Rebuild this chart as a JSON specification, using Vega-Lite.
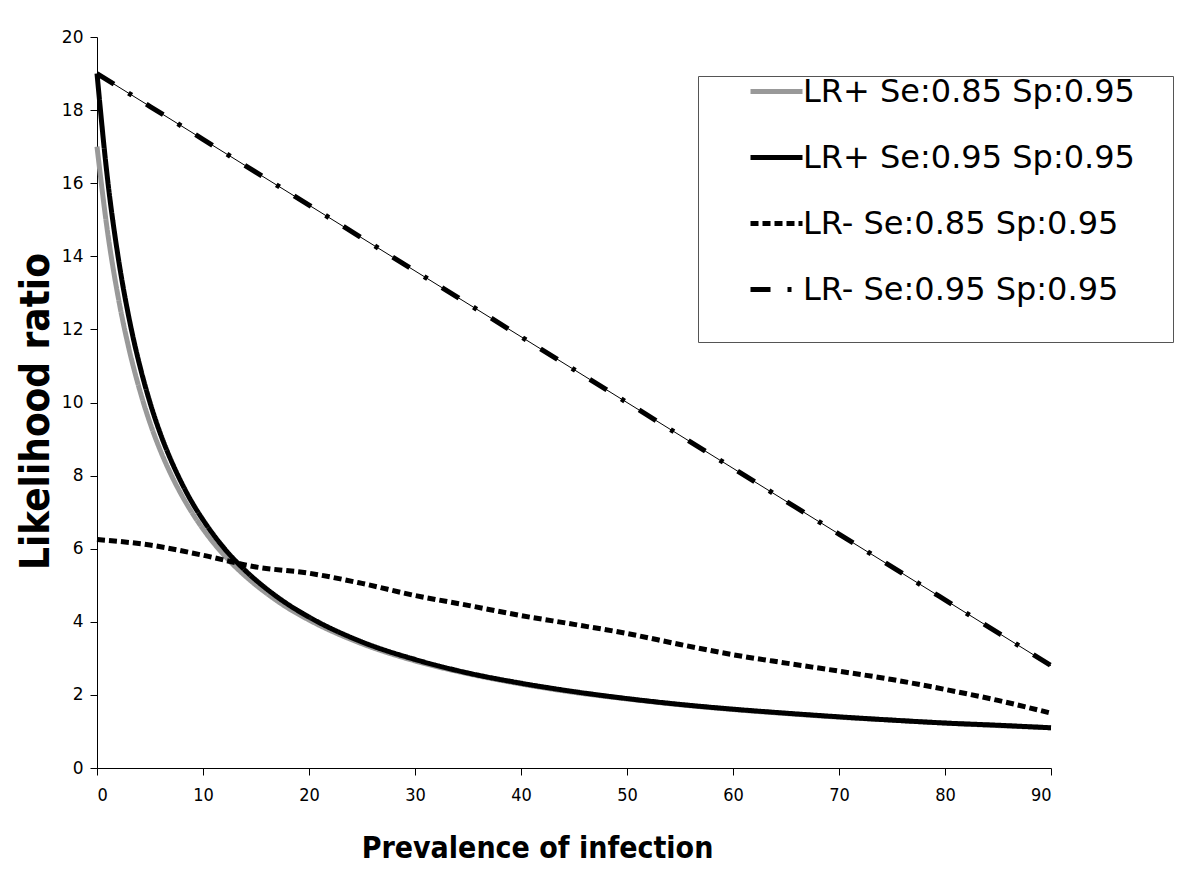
{
  "$schema": "https://vega.github.io/schema/vega-lite/v6.json",
  "width": 954,
  "height": 731,
  "autosize": "none",
  "padding": {"left": 97, "top": 37, "right": 149, "bottom": 126},
  "background": "white",
  "config": {
    "view": {"stroke": null},
    "axis": {"grid": false, "domainColor": "#000", "tickColor": "#000", "labelColor": "#000", "titleColor": "#000", "tickSize": 7, "domainWidth": 1, "tickWidth": 1},
    "axisX": {"labelFont": "DejaVu Sans Condensed", "labelFontSize": 18, "labelPadding": 11},
    "axisY": {"labelFont": "DejaVu Sans", "labelFontSize": 17, "labelPadding": 7},
    "legend": {
      "orient": "none", "legendX": 601, "legendY": 39,
      "symbolType": "stroke", "symbolSize": 2704, "symbolOffset": 63,
      "labelFont": "DejaVu Sans", "labelFontSize": 32, "labelColor": "#000", "labelOffset": -2, "labelLimit": 700,
      "rowPadding": 21, "padding": -13, "strokeColor": "#555", "fillColor": "white",
      "titleOrient": "bottom", "titleFontSize": 16, "titlePadding": 33
    }
  },
  "datasets": {
    "curves": [
      {"series": "LR+ Se:0.85 Sp:0.95", "prevalence": 0, "lr": 17.0},
      {"series": "LR+ Se:0.85 Sp:0.95", "prevalence": 1, "lr": 14.66},
      {"series": "LR+ Se:0.85 Sp:0.95", "prevalence": 2, "lr": 12.88},
      {"series": "LR+ Se:0.85 Sp:0.95", "prevalence": 3, "lr": 11.49},
      {"series": "LR+ Se:0.85 Sp:0.95", "prevalence": 4, "lr": 10.37},
      {"series": "LR+ Se:0.85 Sp:0.95", "prevalence": 5, "lr": 9.44},
      {"series": "LR+ Se:0.85 Sp:0.95", "prevalence": 6, "lr": 8.67},
      {"series": "LR+ Se:0.85 Sp:0.95", "prevalence": 7, "lr": 8.02},
      {"series": "LR+ Se:0.85 Sp:0.95", "prevalence": 8, "lr": 7.46},
      {"series": "LR+ Se:0.85 Sp:0.95", "prevalence": 9, "lr": 6.97},
      {"series": "LR+ Se:0.85 Sp:0.95", "prevalence": 10, "lr": 6.54},
      {"series": "LR+ Se:0.85 Sp:0.95", "prevalence": 12, "lr": 5.82},
      {"series": "LR+ Se:0.85 Sp:0.95", "prevalence": 14, "lr": 5.25},
      {"series": "LR+ Se:0.85 Sp:0.95", "prevalence": 16, "lr": 4.78},
      {"series": "LR+ Se:0.85 Sp:0.95", "prevalence": 18, "lr": 4.38},
      {"series": "LR+ Se:0.85 Sp:0.95", "prevalence": 20, "lr": 4.05},
      {"series": "LR+ Se:0.85 Sp:0.95", "prevalence": 25, "lr": 3.40},
      {"series": "LR+ Se:0.85 Sp:0.95", "prevalence": 30, "lr": 2.93},
      {"series": "LR+ Se:0.85 Sp:0.95", "prevalence": 35, "lr": 2.58},
      {"series": "LR+ Se:0.85 Sp:0.95", "prevalence": 40, "lr": 2.30},
      {"series": "LR+ Se:0.85 Sp:0.95", "prevalence": 45, "lr": 2.07},
      {"series": "LR+ Se:0.85 Sp:0.95", "prevalence": 50, "lr": 1.89},
      {"series": "LR+ Se:0.85 Sp:0.95", "prevalence": 55, "lr": 1.73},
      {"series": "LR+ Se:0.85 Sp:0.95", "prevalence": 60, "lr": 1.60},
      {"series": "LR+ Se:0.85 Sp:0.95", "prevalence": 65, "lr": 1.49},
      {"series": "LR+ Se:0.85 Sp:0.95", "prevalence": 70, "lr": 1.39},
      {"series": "LR+ Se:0.85 Sp:0.95", "prevalence": 75, "lr": 1.31},
      {"series": "LR+ Se:0.85 Sp:0.95", "prevalence": 80, "lr": 1.23},
      {"series": "LR+ Se:0.85 Sp:0.95", "prevalence": 85, "lr": 1.16},
      {"series": "LR+ Se:0.85 Sp:0.95", "prevalence": 90, "lr": 1.10},

      {"series": "LR+ Se:0.95 Sp:0.95", "prevalence": 0, "lr": 19.0},
      {"series": "LR+ Se:0.95 Sp:0.95", "prevalence": 1, "lr": 16.10},
      {"series": "LR+ Se:0.95 Sp:0.95", "prevalence": 2, "lr": 13.97},
      {"series": "LR+ Se:0.95 Sp:0.95", "prevalence": 3, "lr": 12.34},
      {"series": "LR+ Se:0.95 Sp:0.95", "prevalence": 4, "lr": 11.05},
      {"series": "LR+ Se:0.95 Sp:0.95", "prevalence": 5, "lr": 10.0},
      {"series": "LR+ Se:0.95 Sp:0.95", "prevalence": 6, "lr": 9.13},
      {"series": "LR+ Se:0.95 Sp:0.95", "prevalence": 7, "lr": 8.41},
      {"series": "LR+ Se:0.95 Sp:0.95", "prevalence": 8, "lr": 7.79},
      {"series": "LR+ Se:0.95 Sp:0.95", "prevalence": 9, "lr": 7.25},
      {"series": "LR+ Se:0.95 Sp:0.95", "prevalence": 10, "lr": 6.79},
      {"series": "LR+ Se:0.95 Sp:0.95", "prevalence": 12, "lr": 6.01},
      {"series": "LR+ Se:0.95 Sp:0.95", "prevalence": 14, "lr": 5.40},
      {"series": "LR+ Se:0.95 Sp:0.95", "prevalence": 16, "lr": 4.90},
      {"series": "LR+ Se:0.95 Sp:0.95", "prevalence": 18, "lr": 4.48},
      {"series": "LR+ Se:0.95 Sp:0.95", "prevalence": 20, "lr": 4.13},
      {"series": "LR+ Se:0.95 Sp:0.95", "prevalence": 25, "lr": 3.45},
      {"series": "LR+ Se:0.95 Sp:0.95", "prevalence": 30, "lr": 2.97},
      {"series": "LR+ Se:0.95 Sp:0.95", "prevalence": 35, "lr": 2.60},
      {"series": "LR+ Se:0.95 Sp:0.95", "prevalence": 40, "lr": 2.32},
      {"series": "LR+ Se:0.95 Sp:0.95", "prevalence": 45, "lr": 2.09},
      {"series": "LR+ Se:0.95 Sp:0.95", "prevalence": 50, "lr": 1.90},
      {"series": "LR+ Se:0.95 Sp:0.95", "prevalence": 55, "lr": 1.74},
      {"series": "LR+ Se:0.95 Sp:0.95", "prevalence": 60, "lr": 1.61},
      {"series": "LR+ Se:0.95 Sp:0.95", "prevalence": 65, "lr": 1.50},
      {"series": "LR+ Se:0.95 Sp:0.95", "prevalence": 70, "lr": 1.40},
      {"series": "LR+ Se:0.95 Sp:0.95", "prevalence": 75, "lr": 1.31},
      {"series": "LR+ Se:0.95 Sp:0.95", "prevalence": 80, "lr": 1.23},
      {"series": "LR+ Se:0.95 Sp:0.95", "prevalence": 85, "lr": 1.17},
      {"series": "LR+ Se:0.95 Sp:0.95", "prevalence": 90, "lr": 1.10},

      {"series": "LR- Se:0.85 Sp:0.95", "prevalence": 0, "lr": 6.25},
      {"series": "LR- Se:0.85 Sp:0.95", "prevalence": 5, "lr": 6.1},
      {"series": "LR- Se:0.85 Sp:0.95", "prevalence": 10, "lr": 5.82},
      {"series": "LR- Se:0.85 Sp:0.95", "prevalence": 15, "lr": 5.5},
      {"series": "LR- Se:0.85 Sp:0.95", "prevalence": 20, "lr": 5.33},
      {"series": "LR- Se:0.85 Sp:0.95", "prevalence": 25, "lr": 5.05},
      {"series": "LR- Se:0.85 Sp:0.95", "prevalence": 30, "lr": 4.72},
      {"series": "LR- Se:0.85 Sp:0.95", "prevalence": 35, "lr": 4.45},
      {"series": "LR- Se:0.85 Sp:0.95", "prevalence": 40, "lr": 4.17},
      {"series": "LR- Se:0.85 Sp:0.95", "prevalence": 45, "lr": 3.93},
      {"series": "LR- Se:0.85 Sp:0.95", "prevalence": 50, "lr": 3.68},
      {"series": "LR- Se:0.85 Sp:0.95", "prevalence": 55, "lr": 3.38},
      {"series": "LR- Se:0.85 Sp:0.95", "prevalence": 60, "lr": 3.1},
      {"series": "LR- Se:0.85 Sp:0.95", "prevalence": 65, "lr": 2.87},
      {"series": "LR- Se:0.85 Sp:0.95", "prevalence": 70, "lr": 2.65},
      {"series": "LR- Se:0.85 Sp:0.95", "prevalence": 75, "lr": 2.42},
      {"series": "LR- Se:0.85 Sp:0.95", "prevalence": 80, "lr": 2.15},
      {"series": "LR- Se:0.85 Sp:0.95", "prevalence": 85, "lr": 1.85},
      {"series": "LR- Se:0.85 Sp:0.95", "prevalence": 90, "lr": 1.5},

      {"series": "LR- Se:0.95 Sp:0.95", "prevalence": 0, "lr": 19.0},
      {"series": "LR- Se:0.95 Sp:0.95", "prevalence": 10, "lr": 17.2},
      {"series": "LR- Se:0.95 Sp:0.95", "prevalence": 20, "lr": 15.4},
      {"series": "LR- Se:0.95 Sp:0.95", "prevalence": 30, "lr": 13.6},
      {"series": "LR- Se:0.95 Sp:0.95", "prevalence": 40, "lr": 11.8},
      {"series": "LR- Se:0.95 Sp:0.95", "prevalence": 50, "lr": 10.0},
      {"series": "LR- Se:0.95 Sp:0.95", "prevalence": 60, "lr": 8.2},
      {"series": "LR- Se:0.95 Sp:0.95", "prevalence": 70, "lr": 6.4},
      {"series": "LR- Se:0.95 Sp:0.95", "prevalence": 80, "lr": 4.6},
      {"series": "LR- Se:0.95 Sp:0.95", "prevalence": 90, "lr": 2.8}
    ]
  },
  "encoding": {
    "x": {
      "field": "prevalence", "type": "quantitative",
      "scale": {"domain": [0, 90], "nice": false},
      "axis": {
        "title": "Prevalence of infection", "values": [0, 10, 20, 30, 40, 50, 60, 70, 80, 90],
        "titleFont": "DejaVu Sans Condensed", "titleFontWeight": "bold", "titleFontSize": 30, "titlePadding": 29,
        "titleX": 440
      }
    },
    "y": {
      "field": "lr", "type": "quantitative",
      "scale": {"domain": [0, 20], "nice": false},
      "axis": {
        "title": "Likelihood ratio", "values": [0, 2, 4, 6, 8, 10, 12, 14, 16, 18, 20],
        "titleFont": "DejaVu Sans Condensed", "titleFontWeight": "bold", "titleFontSize": 40, "titlePadding": 5,
        "titleY": 374
      }
    }
  },
  "layer": [
    {
      "data": {"name": "curves"},
      "transform": [{"filter": "datum.series === 'LR- Se:0.95 Sp:0.95'"}],
      "mark": {"type": "line", "color": "#000", "strokeWidth": 1}
    },
    {
      "data": {"name": "curves"},
      "mark": {"type": "line", "interpolate": "monotone"},
      "encoding": {
        "color": {
          "field": "series", "type": "nominal", "title": " ",
          "scale": {"domain": ["LR+ Se:0.85 Sp:0.95", "LR+ Se:0.95 Sp:0.95", "LR- Se:0.85 Sp:0.95", "LR- Se:0.95 Sp:0.95"], "range": ["#999999", "#000000", "#000000", "#000000"]},
          "legend": {"labelExpr": "datum.label + '\u00a0\u00a0\u00a0\u00a0\u00a0\u200b'"}
        },
        "strokeDash": {
          "field": "series", "type": "nominal", "title": " ",
          "scale": {"domain": ["LR+ Se:0.85 Sp:0.95", "LR+ Se:0.95 Sp:0.95", "LR- Se:0.85 Sp:0.95", "LR- Se:0.95 Sp:0.95"], "range": [[1, 0], [1, 0], [8, 4], [20, 17, 4, 17]]},
          "legend": {"labelExpr": "datum.label + '\u00a0\u00a0\u00a0\u00a0\u00a0\u200b'"}
        },
        "strokeWidth": {
          "field": "series", "type": "nominal", "title": " ",
          "scale": {"domain": ["LR+ Se:0.85 Sp:0.95", "LR+ Se:0.95 Sp:0.95", "LR- Se:0.85 Sp:0.95", "LR- Se:0.95 Sp:0.95"], "range": [5, 5, 3, 5]},
          "legend": {"labelExpr": "datum.label + '\u00a0\u00a0\u00a0\u00a0\u00a0\u200b'"}
        }
      }
    },
    {
      "data": {"values": [{}]},
      "mark": {"type": "rule", "color": "#000", "strokeWidth": 1.5},
      "encoding": {
        "x": {"datum": 0, "type": "quantitative"},
        "x2": {"datum": 89},
        "y": {"datum": 4.65, "type": "quantitative"}
      }
    }
  ]
}
